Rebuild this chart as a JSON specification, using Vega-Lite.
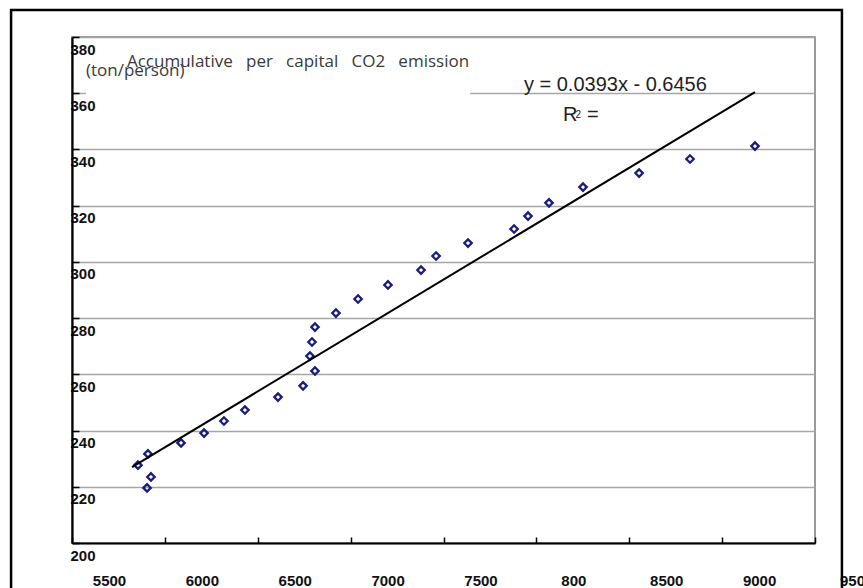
{
  "$schema": "https://vega.github.io/schema/vega-lite/v6.json",
  "width": 743,
  "height": 506,
  "autosize": {"type": "none"},
  "padding": {"left": 72, "top": 37, "right": 48, "bottom": 45},
  "background": "white",
  "config": {
    "view": {"stroke": "#7a7a7a", "strokeWidth": 1.5},
    "axis": {"labelFont": "Liberation Sans", "labelFontWeight": "bold", "labelFontSize": 15, "labelColor": "#111"}
  },
  "datasets": {
    "points": [
      {"x": 5855, "y": 227.7}, {"x": 5909, "y": 231.7}, {"x": 5925, "y": 223.5}, {"x": 5904, "y": 219.6},
      {"x": 6087, "y": 235.6}, {"x": 6211, "y": 239.1}, {"x": 6318, "y": 243.4}, {"x": 6431, "y": 247.3},
      {"x": 6609, "y": 251.9}, {"x": 6744, "y": 255.9}, {"x": 6808, "y": 261.2}, {"x": 6781, "y": 266.5},
      {"x": 6792, "y": 271.5}, {"x": 6808, "y": 276.8}, {"x": 6921, "y": 281.8}, {"x": 7040, "y": 286.8},
      {"x": 7201, "y": 291.8}, {"x": 7379, "y": 297.1}, {"x": 7460, "y": 302.1}, {"x": 7632, "y": 306.7},
      {"x": 7880, "y": 311.7}, {"x": 7955, "y": 316.3}, {"x": 8068, "y": 321.0}, {"x": 8251, "y": 326.6},
      {"x": 8553, "y": 331.6}, {"x": 8827, "y": 336.6}, {"x": 9177, "y": 341.2}
    ],
    "fit": [{"x": 5823, "y": 227.0}, {"x": 9177, "y": 360.4}]
  },
  "layer": [
    {
      "data": {"name": "points"},
      "mark": {"type": "point", "shape": "diamond", "filled": false, "color": "#1c1c7a", "strokeWidth": 2.3, "size": 55, "opacity": 1},
      "encoding": {
        "x": {
          "field": "x", "type": "quantitative",
          "scale": {"domain": [5500, 9500], "nice": false, "zero": false},
          "axis": {
            "title": null, "values": [5500, 6000, 6500, 7000, 7500, 8000, 8500, 9000, 9500],
            "grid": false, "domainColor": "#000", "domainWidth": 2.2,
            "tickColor": "#000", "tickWidth": 1.5, "tickSize": -6,
            "labelPadding": 43, "labelBaseline": "middle", "labelOffset": 37,
            "labelFlush": false, "labelOverlap": false, "labelBound": false,
            "labelExpr": "datum.value == 8000 ? '800' : datum.value == 9500 ? '950' : format(datum.value, 'd')"
          }
        },
        "y": {
          "field": "y", "type": "quantitative",
          "scale": {"domain": [200, 380], "nice": false, "zero": false},
          "axis": {
            "title": null, "values": [200, 220, 240, 260, 280, 300, 320, 340, 360, 380],
            "grid": true, "gridColor": "#a6a6a6", "gridWidth": 1.5,
            "domainColor": "#000", "domainWidth": 2.2,
            "tickColor": "#000", "tickWidth": 1.5, "tickSize": -7,
            "labelPadding": 9, "labelAlign": "left", "labelBaseline": "middle", "labelOffset": 12,
            "labelFlush": false, "labelOverlap": false, "labelBound": false,
            "format": "d"
          }
        }
      }
    },
    {
      "data": {"values": [{}]},
      "mark": {"type": "rect", "fill": "white", "stroke": null},
      "encoding": {
        "x": {"datum": 5575, "type": "quantitative"},
        "x2": {"datum": 7643},
        "y": {"datum": 358.3, "type": "quantitative"},
        "y2": {"datum": 361.5}
      }
    },
    {
      "data": {"name": "fit"},
      "mark": {"type": "line", "color": "#000", "strokeWidth": 2},
      "encoding": {
        "x": {"field": "x", "type": "quantitative"},
        "y": {"field": "y", "type": "quantitative"}
      }
    },
    {
      "data": {"values": [{"t": "Accumulative\u00a0\u00a0\u00a0per\u00a0\u00a0\u00a0capital\u00a0\u00a0\u00a0CO2\u00a0\u00a0\u00a0emission"}]},
      "mark": {"type": "text", "align": "left", "baseline": "alphabetic", "font": "Open Sans", "fontSize": 17, "color": "#3a3a3a"},
      "encoding": {
        "x": {"datum": 5796, "type": "quantitative"},
        "y": {"datum": 369.3, "type": "quantitative"},
        "text": {"field": "t"}
      }
    },
    {
      "data": {"values": [{"t": "(ton/person)"}]},
      "mark": {"type": "text", "align": "left", "baseline": "alphabetic", "font": "Open Sans", "fontSize": 17, "color": "#3a3a3a"},
      "encoding": {
        "x": {"datum": 5575, "type": "quantitative"},
        "y": {"datum": 366.3, "type": "quantitative"},
        "text": {"field": "t"}
      }
    },
    {
      "data": {"values": [{"t": "y = 0.0393x - 0.6456"}]},
      "mark": {"type": "text", "align": "left", "baseline": "alphabetic", "font": "Liberation Sans", "fontSize": 20, "color": "#222"},
      "encoding": {
        "x": {"datum": 7933, "type": "quantitative"},
        "y": {"datum": 360.8, "type": "quantitative"},
        "text": {"field": "t"}
      }
    },
    {
      "data": {"values": [{"t": "R"}]},
      "mark": {"type": "text", "align": "left", "baseline": "alphabetic", "font": "Liberation Sans", "fontSize": 20, "color": "#222"},
      "encoding": {
        "x": {"datum": 8143, "type": "quantitative"},
        "y": {"datum": 350.1, "type": "quantitative"},
        "text": {"field": "t"}
      }
    },
    {
      "data": {"values": [{"t": "2"}]},
      "mark": {"type": "text", "align": "left", "baseline": "alphabetic", "font": "Liberation Sans", "fontSize": 10, "color": "#222"},
      "encoding": {
        "x": {"datum": 8210, "type": "quantitative"},
        "y": {"datum": 351.2, "type": "quantitative"},
        "text": {"field": "t"}
      }
    },
    {
      "data": {"values": [{"t": "="}]},
      "mark": {"type": "text", "align": "left", "baseline": "alphabetic", "font": "Liberation Sans", "fontSize": 20, "color": "#222"},
      "encoding": {
        "x": {"datum": 8272, "type": "quantitative"},
        "y": {"datum": 350.1, "type": "quantitative"},
        "text": {"field": "t"}
      }
    },
    {
      "data": {"values": [{}]},
      "mark": {"type": "rect", "fill": "white", "fillOpacity": 0, "stroke": "#000", "strokeWidth": 2.5},
      "encoding": {
        "x": {"datum": 5172, "type": "quantitative"},
        "x2": {"datum": 9645},
        "y": {"datum": 389.6, "type": "quantitative"},
        "y2": {"datum": 178}
      }
    }
  ]
}
